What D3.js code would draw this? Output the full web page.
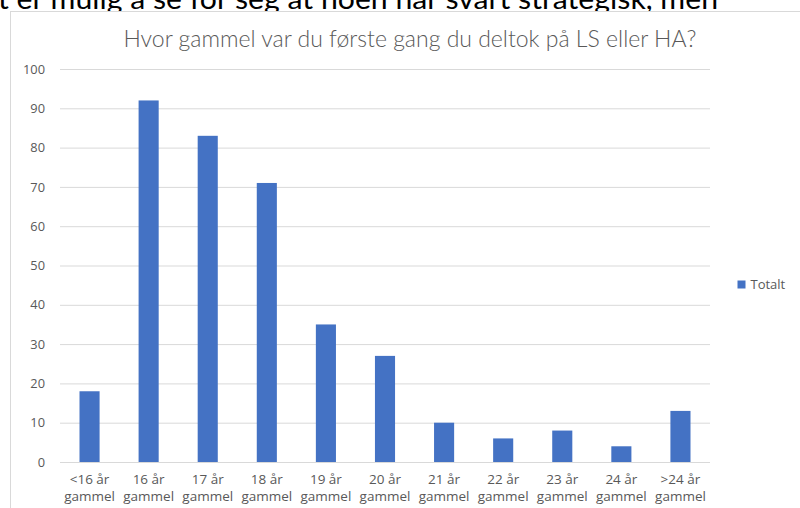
<!DOCTYPE html>
<html>
<head>
<meta charset="utf-8">
<script src="https://cdn.jsdelivr.net/npm/d3@7"></script>
<style>
  body { margin: 0; background: #fff; }
  svg { display: block; }
</style>
</head>
<body>
<div id="canvas"></div>
<script>
// --- data
var categories = ['<16 år gammel', '16 år gammel', '17 år gammel', '18 år gammel', '19 år gammel',
                  '20 år gammel', '21 år gammel', '22 år gammel', '23 år gammel', '24 år gammel', '>24 år gammel'];
var totalt = [18, 92, 83, 71, 35, 27, 10, 6, 8, 4, 13];
var yTicks = [0, 10, 20, 30, 40, 50, 60, 70, 80, 90, 100];
var seriesName = 'Totalt';
var title = 'Hvor gammel var du første gang du deltok på LS eller HA?';
var aboveText = 't er mulig å se for seg at noen har svart strategisk, men';

var W = 800, H = 508;
var M = {top: 69, left: 60, right: 90, bottom: 46};
var w = W - M.left - M.right,
    h = H - M.top - M.bottom;

var svg = d3.select('#canvas')
  .append('svg')
  .attr('width', W)
  .attr('height', H);

var font = '"Open Sans", "Noto Sans", sans-serif';
var grey = '#595959';

// --- text of the document above the chart (cut off at the top, like in the screenshot)
svg.append('text')
  .attr('x', -2)
  .attr('y', 9)
  .attr('font-family', 'Lato, "Noto Sans", sans-serif')
  .attr('font-size', '29px')
  .attr('textLength', 720)
  .attr('lengthAdjust', 'spacingAndGlyphs')
  .attr('fill', '#000')
  .text(aboveText);

// --- chart frame
svg.append('rect')
  .attr('x', 10.5)
  .attr('y', 11.5)
  .attr('width', 820)
  .attr('height', 520)
  .attr('fill', '#fff')
  .attr('stroke', '#d9d9d9')
  .attr('stroke-width', 1);

var plot = svg.append('g')
  .attr('transform', 'translate(' + M.left + ',' + M.top + ')');

// --- scales
var x = d3.scaleBand()
  .domain(categories)
  .range([0, w])
  .paddingInner(0.66)
  .paddingOuter(0.33);

var y = d3.scaleLinear()
  .domain([0, 100])
  .range([h, 0]);

// --- gridlines + y labels
var yAxis = d3.axisLeft(y)
  .tickValues(yTicks)
  .tickSize(-w)
  .tickPadding(15);

var gy = plot.append('g').call(yAxis);
gy.select('.domain').remove();
gy.selectAll('.tick line')
  .attr('stroke', '#d9d9d9')
  .attr('stroke-width', 1);
gy.selectAll('.tick text')
  .attr('font-family', font)
  .attr('font-size', '12.8px')
  .attr('fill', grey);

// --- bars
plot.selectAll('rect.bar')
  .data(totalt)
  .enter()
  .append('rect')
  .attr('class', 'bar')
  .attr('x', function(d, i) { return x(categories[i]); })
  .attr('y', function(d) { return y(d); })
  .attr('width', x.bandwidth())
  .attr('height', function(d) { return h - y(d); })
  .attr('fill', '#4472c4');

// --- x labels (two lines)
var xl = plot.selectAll('text.xl')
  .data(categories)
  .enter()
  .append('text')
  .attr('class', 'xl')
  .attr('text-anchor', 'middle')
  .attr('font-family', font)
  .attr('font-size', '13.5px')
  .attr('fill', grey)
  .attr('transform', function(d) { return 'translate(' + (x(d) + x.bandwidth() / 2) + ',' + (h + 22) + ')'; });

xl.append('tspan')
  .attr('x', 0)
  .text(function(d) { return d.split(' gammel')[0]; });
xl.append('tspan')
  .attr('x', 0)
  .attr('dy', 17)
  .text('gammel');

// --- title
svg.append('text')
  .attr('x', 410)
  .attr('y', 47)
  .attr('text-anchor', 'middle')
  .attr('font-family', 'Lato, "Noto Sans", sans-serif')
  .attr('font-weight', 300)
  .attr('font-size', '23px')
  .attr('fill', grey)
  .text(title);

// --- legend
var lg = svg.append('g').attr('transform', 'translate(737.5,280.5)');
lg.append('rect')
  .attr('width', 8)
  .attr('height', 8)
  .attr('fill', '#4472c4');
lg.append('text')
  .attr('x', 13)
  .attr('y', 8.5)
  .attr('font-family', font)
  .attr('font-size', '13px')
  .attr('fill', grey)
  .text(seriesName);
</script>
</body>
</html>
